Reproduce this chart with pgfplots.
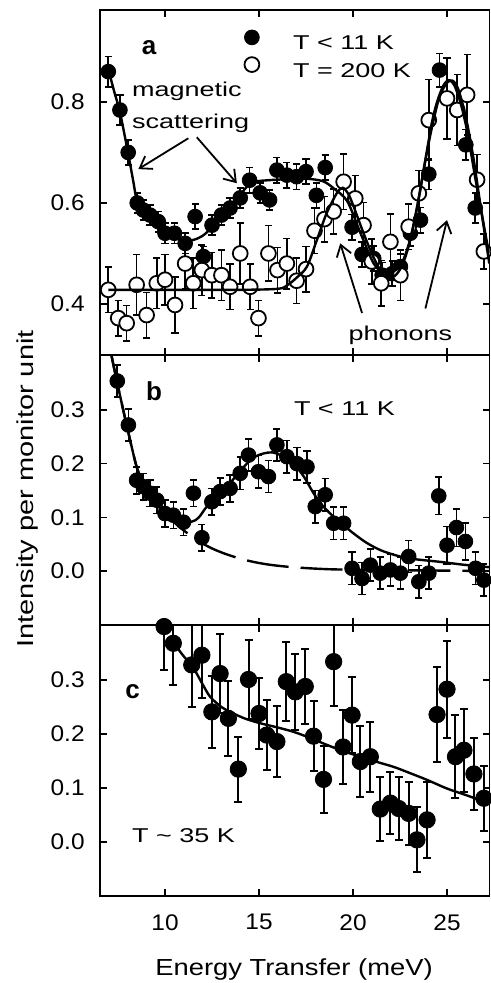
\documentclass[border=0pt]{standalone}
\usepackage{fontspec}
\setmainfont{Liberation Sans}
\newfontfamily\annfont{Liberation Sans}[FakeStretch=1.35]
\newfontfamily\xlabfont{Liberation Sans}[FakeStretch=1.18]
\newfontfamily\ylabfont{Liberation Sans}[FakeStretch=1.26]
\newfontfamily\tickfont{Liberation Sans}[FakeStretch=1.08]
\usepackage{pgfplots}
\pgfplotsset{compat=1.18}
\usepackage{pgfplotstable}
\usetikzlibrary{arrows.meta}

\pgfplotstableread{
E v e
6.98 0.860 0.030
7.60 0.784 0.030
8.04 0.700 0.025
8.52 0.600 0.020
8.84 0.586 0.020
9.20 0.576 0.020
9.64 0.563 0.020
10.00 0.540 0.020
10.50 0.540 0.020
11.07 0.520 0.020
11.60 0.573 0.025
12.04 0.494 0.020
12.50 0.556 0.020
13.00 0.576 0.020
13.46 0.590 0.020
14.00 0.610 0.020
14.50 0.645 0.025
15.06 0.620 0.020
15.56 0.606 0.020
15.95 0.665 0.025
16.48 0.655 0.025
17.00 0.652 0.025
17.50 0.662 0.025
18.05 0.615 0.025
18.52 0.670 0.025
19.95 0.552 0.025
20.48 0.498 0.025
21.10 0.490 0.025
21.55 0.457 0.025
22.08 0.460 0.025
22.52 0.474 0.025
23.05 0.540 0.025
23.59 0.566 0.025
24.03 0.657 0.030
24.60 0.863 0.033
26.00 0.715 0.030
26.50 0.590 0.030
}\filleda

\pgfplotstableread{
E v e
6.98 0.428 0.045
7.51 0.372 0.035
7.96 0.362 0.035
8.49 0.438 0.060
9.02 0.378 0.045
9.56 0.441 0.050
10.00 0.448 0.050
10.53 0.398 0.055
11.07 0.480 0.050
11.50 0.441 0.050
11.96 0.467 0.050
12.49 0.457 0.045
13.00 0.457 0.050
13.46 0.434 0.045
14.00 0.500 0.060
14.53 0.434 0.045
14.97 0.372 0.035
15.50 0.500 0.055
15.98 0.467 0.045
16.48 0.480 0.050
17.00 0.446 0.045
17.50 0.469 0.045
17.95 0.545 0.045
18.48 0.568 0.045
18.97 0.583 0.045
19.50 0.642 0.055
20.12 0.609 0.045
20.56 0.556 0.045
21.00 0.484 0.045
21.50 0.441 0.045
21.99 0.523 0.055
22.52 0.457 0.050
22.96 0.553 0.045
23.50 0.619 0.045
24.03 0.764 0.080
25.00 0.807 0.080
25.54 0.784 0.070
26.07 0.814 0.080
26.60 0.646 0.050
26.96 0.504 0.035
}\opena

\pgfplotstableread{
E v e
7.46 0.354 0.030
8.05 0.272 0.030
8.49 0.169 0.025
8.84 0.157 0.025
9.20 0.145 0.025
9.56 0.132 0.025
10.00 0.107 0.025
10.44 0.104 0.025
10.98 0.091 0.025
11.51 0.145 0.025
11.96 0.062 0.025
12.49 0.129 0.025
12.93 0.148 0.025
13.46 0.154 0.025
14.00 0.182 0.030
14.44 0.216 0.030
14.97 0.185 0.030
15.50 0.176 0.030
15.95 0.235 0.030
16.48 0.213 0.030
17.02 0.200 0.030
17.55 0.194 0.030
17.99 0.120 0.030
18.52 0.142 0.030
18.97 0.089 0.030
19.50 0.089 0.030
19.95 0.005 0.030
20.48 -0.014 0.030
20.92 0.011 0.030
21.45 -0.004 0.030
21.99 0.002 0.030
22.52 -0.004 0.030
22.96 0.027 0.030
23.50 -0.020 0.030
24.03 -0.004 0.030
24.56 0.140 0.035
25.00 0.048 0.035
25.50 0.081 0.035
25.98 0.055 0.035
26.52 0.005 0.030
26.96 -0.017 0.030
}\filledb

\pgfplotstableread{
E v e
9.95 0.399 0.080
10.44 0.368 0.078
11.42 0.328 0.078
11.96 0.346 0.080
12.49 0.241 0.066
12.93 0.312 0.074
13.37 0.229 0.070
13.90 0.135 0.060
14.44 0.301 0.074
15.00 0.238 0.065
15.41 0.198 0.065
15.95 0.186 0.065
16.45 0.297 0.073
16.93 0.278 0.070
17.46 0.288 0.070
17.90 0.196 0.065
18.43 0.116 0.062
18.97 0.334 0.082
19.47 0.176 0.068
19.95 0.235 0.070
20.39 0.149 0.065
20.92 0.158 0.065
21.45 0.061 0.060
21.99 0.072 0.058
22.43 0.062 0.058
22.96 0.053 0.058
23.40 0.004 0.060
23.94 0.041 0.070
24.47 0.236 0.088
25.00 0.283 0.090
25.45 0.158 0.077
25.90 0.170 0.077
26.43 0.126 0.067
26.96 0.081 0.060
}\filledc

\pgfplotsset{
  panel/.style={
    scale only axis, width=194.75pt,
    xmin=6.54, xmax=27.26,
    xtick={10,15,20,25},
    tick align=inside,
    major tick length=3.5pt,
    axis line style={line width=0.9pt},
    every tick/.style={black, line width=0.8pt},
    xtick pos=both, ytick pos=both,
    yticklabel style={font=\tickfont\fontsize{11.3}{13}\selectfont, anchor=east, inner sep=0pt, xshift=-7.5pt,
      /pgf/number format/.cd, fixed, fixed zerofill, precision=1, assume math mode=true},
    xticklabel style={font=\tickfont\fontsize{11.3}{13}\selectfont, anchor=north, inner sep=0pt, yshift=-9pt,
      /pgf/number format/assume math mode=true},
    clip mode=individual,
  },
  dat/.style={only marks, mark=*, mark size=3.7pt, black, mark options={fill=black},
    error bars/y dir=both, error bars/y explicit,
    error bars/error bar style={line width=0.8pt, black},
    error bars/error mark options={rotate=90, mark size=1.8pt, line width=0.8pt, black},
    legend image code/.code={\draw[##1] plot coordinates {(0pt,3.5pt)};}},
  fitl/.style={no marks, black, line width=1.2pt, smooth, forget plot},
}
\tikzset{
  ann/.style={font=\annfont\fontsize{10}{12}\selectfont, inner sep=0pt},
  lett/.style={font=\bfseries\fontsize{13}{15}\selectfont, inner sep=0pt, anchor=base},
  arr/.style={line width=0.9pt, -{Straight Barb[length=5.5pt,width=7.5pt]}},
}

\begin{document}
\begin{tikzpicture}
\path[use as bounding box] (-50pt,-43.5pt) rectangle (195.5pt,448pt);

% ---------------- panel a
\begin{axis}[panel, at={(0pt,270.5pt)}, anchor=south west, height=172.5pt,
  ymin=0.299, ymax=0.982, ytick={0.4,0.6,0.8}, xticklabels={},
  legend style={draw=none, fill=none, inner sep=0pt, outer sep=0pt,
    at={(0.371,0.942)}, anchor=north west, row sep=2.2pt,
    font=\annfont\fontsize{10}{12}\selectfont,
    nodes={inner sep=0pt},
    /tikz/every odd column/.append style={column sep=16.9pt}},
  legend cell align=left]
\addplot[dat] table[x=E,y=v,y error=e]{\filleda};
\addlegendentry{T < 11 K}
\addplot[dat, mark options={fill=white, draw=black, line width=0.9pt}] table[x=E,y=v,y error=e]{\opena};
\addlegendentry{T = 200 K}
\addplot[fitl] coordinates {(6.98,0.865)(7.3,0.82)(7.6,0.78)(8.0,0.705)(8.3,0.645)(8.5,0.605)(8.8,0.585)(9.2,0.57)(9.7,0.553)(10.2,0.54)(10.8,0.53)(11.4,0.526)(12.0,0.535)(12.6,0.555)(13.3,0.58)(13.8,0.605)(14.35,0.632)(14.8,0.642)(15.5,0.645)(16.5,0.647)(17.5,0.648)(18.4,0.643)(19.0,0.628)(19.7,0.603)(20.4,0.54)(21.1,0.48)(21.6,0.463)(22.0,0.463)(22.5,0.474)(22.9,0.51)(23.2,0.553)(23.6,0.63)(23.94,0.705)(24.2,0.76)(24.47,0.80)(24.8,0.832)(25.1,0.843)(25.4,0.832)(25.72,0.798)(26.0,0.755)(26.25,0.705)(26.5,0.65)(26.78,0.593)(27.1,0.527)(27.25,0.50)};
\addplot[fitl] coordinates {(6.98,0.428)(10,0.428)(14,0.428)(16.0,0.43)(16.5,0.437)(17.0,0.452)(17.55,0.474)(18.08,0.527)(18.6,0.58)(19.15,0.62)(19.45,0.63)(19.75,0.618)(20.03,0.593)(20.56,0.54)(21.0,0.50)(21.4,0.47)(21.8,0.454)(22.2,0.455)(22.6,0.475)(23.0,0.52)(23.4,0.59)(23.8,0.675)(24.2,0.75)(24.6,0.81)(25.0,0.838)(25.3,0.842)(25.6,0.825)(26.0,0.77)(26.4,0.69)(26.8,0.59)(27.25,0.48)};
\node[lett] at (axis cs:9.15,0.893) {a};
\node[ann, anchor=base west] at (axis cs:8.23,0.810) {magnetic};
\node[ann, anchor=base west] at (axis cs:8.23,0.748) {scattering};
\draw[arr] (axis cs:11.24,0.728) -- (axis cs:8.58,0.667);
\draw[arr] (axis cs:11.69,0.730) -- (axis cs:13.82,0.639);
\node[ann, anchor=base] at (axis cs:22.52,0.327) {phonons};
\draw[arr] (axis cs:20.48,0.382) -- (axis cs:19.32,0.520);
\draw[arr] (axis cs:23.85,0.391) -- (axis cs:25.0,0.566);
\end{axis}

% ---------------- panel b
\begin{axis}[panel, at={(0pt,135.5pt)}, anchor=south west, height=135pt,
  ymin=-0.1006, ymax=0.4025, ytick={0,0.1,0.2,0.3}, xticklabels={}]
\addplot[dat] table[x=E,y=v,y error=e]{\filledb};
\addplot[fitl] coordinates {(7.1,0.41)(7.46,0.35)(7.97,0.27)(8.49,0.194)(8.85,0.165)(9.2,0.145)(9.6,0.128)(10.1,0.113)(10.8,0.097)(11.42,0.092)(11.8,0.10)(12.22,0.12)(12.8,0.14)(13.29,0.157)(13.8,0.178)(14.35,0.20)(14.8,0.213)(15.24,0.219)(15.7,0.221)(16.2,0.215)(16.84,0.20)(17.4,0.175)(17.9,0.145)(18.4,0.121)(18.97,0.101)(19.5,0.085)(20.03,0.07)(20.7,0.053)(21.45,0.039)(22.2,0.03)(22.88,0.024)(23.8,0.02)(24.65,0.017)(25.8,0.012)(26.96,0.008)(27.26,0.007)};
\addplot[fitl, dash pattern=on 21pt off 6pt] coordinates {(7.1,0.41)(7.46,0.35)(7.97,0.27)(8.49,0.194)(9.0,0.152)(9.6,0.122)(10.2,0.100)(10.8,0.081)(11.4,0.065)(11.86,0.054)(12.5,0.042)(13.2,0.032)(14.0,0.023)(14.7,0.017)(15.5,0.012)(16.5,0.008)(17.7,0.005)(19,0.003)(21,0.002)(24,0.001)(27.26,0.0)};
\node[lett] at (axis cs:9.41,0.318) {b};
\node[ann, anchor=base west] at (axis cs:16.84,0.290) {T < 11 K};
\end{axis}

% ---------------- panel c
\begin{axis}[panel, at={(0pt,0pt)}, anchor=south west, height=135.5pt,
  ymin=-0.1, ymax=0.4019, ytick={0,0.1,0.2,0.3}]
\addplot[dat, mark size=4.1pt, error bars/error bar style={line width=1pt, black},
  error bars/error mark options={rotate=90, mark size=2pt, line width=1pt, black}]
  table[x=E,y=v,y error=e]{\filledc};
\addplot[fitl] coordinates {(10.44,0.37)(10.9,0.348)(11.51,0.322)(12.0,0.292)(12.4,0.269)(13.0,0.25)(13.64,0.238)(14.3,0.228)(15.06,0.22)(16.0,0.212)(16.84,0.204)(17.7,0.193)(18.6,0.18)(19.5,0.168)(20.39,0.158)(21.3,0.148)(22.17,0.139)(23.0,0.128)(23.94,0.115)(25.0,0.099)(26.0,0.087)(26.96,0.075)};
\node[lett] at (axis cs:8.27,0.266) {c};
\node[ann, anchor=base west] at (axis cs:8.23,0.0) {T \textasciitilde{} 35 K};
\end{axis}

\node[font=\ylabfont\fontsize{11.5}{13}\selectfont, rotate=90] at (-36pt,203.5pt) {Intensity per monitor unit};
\node[font=\xlabfont\fontsize{11.6}{13}\selectfont, anchor=base] at (97pt,-39.5pt) {Energy Transfer (meV)};
\end{tikzpicture}
\end{document}
